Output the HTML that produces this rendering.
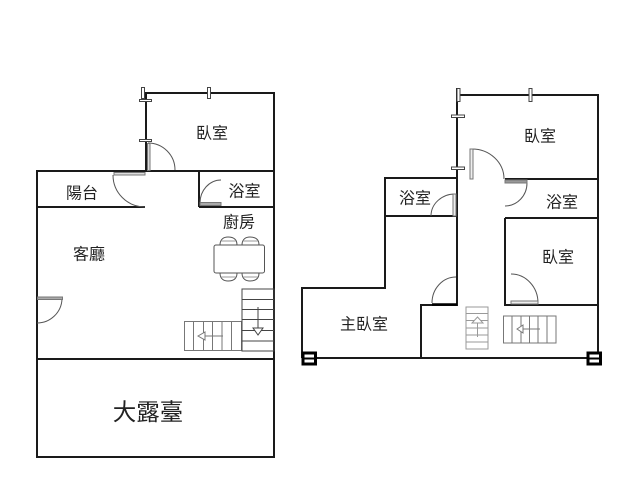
<!DOCTYPE html>
<html><head><meta charset="utf-8"><style>
html,body{margin:0;padding:0;background:#fff;width:640px;height:480px;overflow:hidden}
svg{display:block}
text{font-family:"Liberation Sans","Noto Sans CJK TC",sans-serif;fill:#222;text-anchor:middle}
</style></head><body>
<svg width="640" height="480" viewBox="0 0 640 480" xmlns="http://www.w3.org/2000/svg">
<rect width="640" height="480" fill="#fff"/>
<!-- LEFT PLAN walls -->
<g fill="none" stroke="#1a1a1a" stroke-width="2">
<path d="M146 171V93H274V457H37V171H146"/>
<path d="M146 171H274"/>
<path d="M37 207H145"/>
<path d="M37 359H274"/>
<path d="M199 171V207M199 207H274"/>
</g>
<!-- ticks left -->
<g fill="#fff" stroke="#444" stroke-width="1">
<rect x="139.500" y="99.500" width="12" height="2"/>
<rect x="139.500" y="139.500" width="12" height="2"/>
<rect x="141.500" y="87.500" width="3" height="11"/>
<rect x="207.500" y="87.500" width="3" height="11"/>
</g>
<!-- doors left -->
<g fill="none" stroke="#555" stroke-width="1">
<path d="M148 143A27 27 0 0 1 175 170"/>
<path d="M113 175A32 32 0 0 0 145 207"/>
<path d="M200 203A21 23 0 0 1 221 180"/>
<path d="M62 299A25 25 0 0 1 37 323"/>
</g>
<g fill="#ddd" stroke="#777" stroke-width="1">
<rect x="147.500" y="143.500" width="2.500" height="27"/>
<rect x="114" y="172.500" width="31" height="2.500"/>
<rect x="200" y="202.500" width="21" height="3" fill="#aaa"/>
<rect x="37.500" y="297" width="25" height="2.500" fill="#aaa"/>
</g>
<!-- table -->
<g fill="#fff" stroke="#555" stroke-width="1">
<path d="M220 245C220 239 224 237 228 237C233 237 237 239 237 245Z"/>
<path d="M242 245C242 239 246 237 250 237C255 237 259 239 259 245Z"/>
<path d="M220 273C220 279 224 281 228 281C233 281 237 279 237 273Z"/>
<path d="M242 273C242 279 246 281 250 281C255 281 259 279 259 273Z"/>
<path d="M221 241H236M243 241H258M221 277H236M243 277H258" stroke="#999"/>
<rect x="214" y="245" width="50.500" height="28" rx="2"/>
</g>
<!-- stairs left -->
<g fill="none" stroke="#777" stroke-width="1">
<rect x="184.500" y="321.500" width="57" height="29"/>
<path d="M193.500 321V350M203.500 321V350M212.500 321V350M222 321V350M231.500 321V350"/>
<path d="M198 336L205 332V340Z" fill="#fff"/>
<path d="M205 336H223"/>
</g>
<g fill="none" stroke="#444" stroke-width="1">
<rect x="242" y="289" width="32" height="62"/>
<path d="M242 299.500H274M242 309.500H274M242 319.500H274M242 330.500H274M242 341H274"/>
<path d="M258 307V329"/>
<path d="M258 335L253 328H263Z" fill="#fff"/>
</g>
<!-- RIGHT PLAN walls -->
<g fill="none" stroke="#1a1a1a" stroke-width="2">
<path d="M457 95H598V358M302 358H600"/>
<path d="M457 88V305H421V358"/>
<path d="M457 178H385V288H302V358"/>
<path d="M385 216H457"/>
<path d="M505 179H598"/>
<path d="M505 218H598M505 218V305H598"/>
</g>
<!-- columns -->
<g fill="#fff" stroke="#000" stroke-width="3">
<rect x="303" y="353" width="12.500" height="11"/>
<rect x="588" y="353" width="12.500" height="11"/>
</g>
<path d="M303 358.500H316M588 358.500H601" stroke="#000" stroke-width="2"/>
<!-- ticks right -->
<g fill="#fff" stroke="#444" stroke-width="1">
<rect x="451.500" y="115" width="13" height="2.500"/>
<rect x="451.500" y="167" width="13" height="2.500"/>
<rect x="457" y="88.500" width="3" height="13"/>
<rect x="529" y="88.500" width="3" height="13"/>
</g>
<!-- doors right -->
<g fill="none" stroke="#555" stroke-width="1">
<path d="M472 149A32 30 0 0 1 504 179"/>
<path d="M527 183A22 23 0 0 1 505 206"/>
<path d="M431 216A24 22 0 0 1 455 194"/>
<path d="M432 303A24 26 0 0 1 456 277"/>
<path d="M511 274A27 29 0 0 1 538 303"/>
</g>
<g fill="#eee" stroke="#777" stroke-width="1">
<rect x="470" y="149" width="3" height="30"/>
<rect x="453" y="194" width="3" height="22"/>
<rect x="511" y="301" width="27" height="3"/>
</g>
<rect x="505" y="180" width="22" height="3" fill="#999" stroke="#777" stroke-width="1"/>
<path d="M432 304.500H457" stroke="#000" stroke-width="2.500"/>
<!-- stairs right -->
<g fill="none" stroke="#999" stroke-width="1">
<rect x="466" y="307" width="22" height="42"/>
<path d="M466 313.500H488M466 320.500H488M466 328H488M466 335H488M466 342H488"/>
<path d="M477.500 317L483 323H472Z" fill="#fff"/>
<path d="M477.500 323V337"/>
</g>
<g fill="none" stroke="#777" stroke-width="1">
<rect x="503.500" y="316" width="52.500" height="27"/>
<path d="M512 316V343M521 316V343M529.500 316V343M538 316V343M547 316V343"/>
<path d="M517 329L523 325V333Z" fill="#fff"/>
<path d="M523 329H540"/>
</g>
<!-- labels -->
<g font-size="16">
<text x="82" y="198.500">陽台</text>
<text x="212" y="138.500">臥室</text>
<text x="244.500" y="196.500">浴室</text>
<text x="239" y="227.500">廚房</text>
<text x="89" y="259.500">客廳</text>
<text x="540" y="141.500">臥室</text>
<text x="415" y="203.500">浴室</text>
<text x="562" y="207.500">浴室</text>
<text x="558" y="262.500">臥室</text>
<text x="364" y="329.500">主臥室</text>
</g>
<text x="148" y="420" font-size="23.500">大露臺</text>
</svg>
</body></html>
